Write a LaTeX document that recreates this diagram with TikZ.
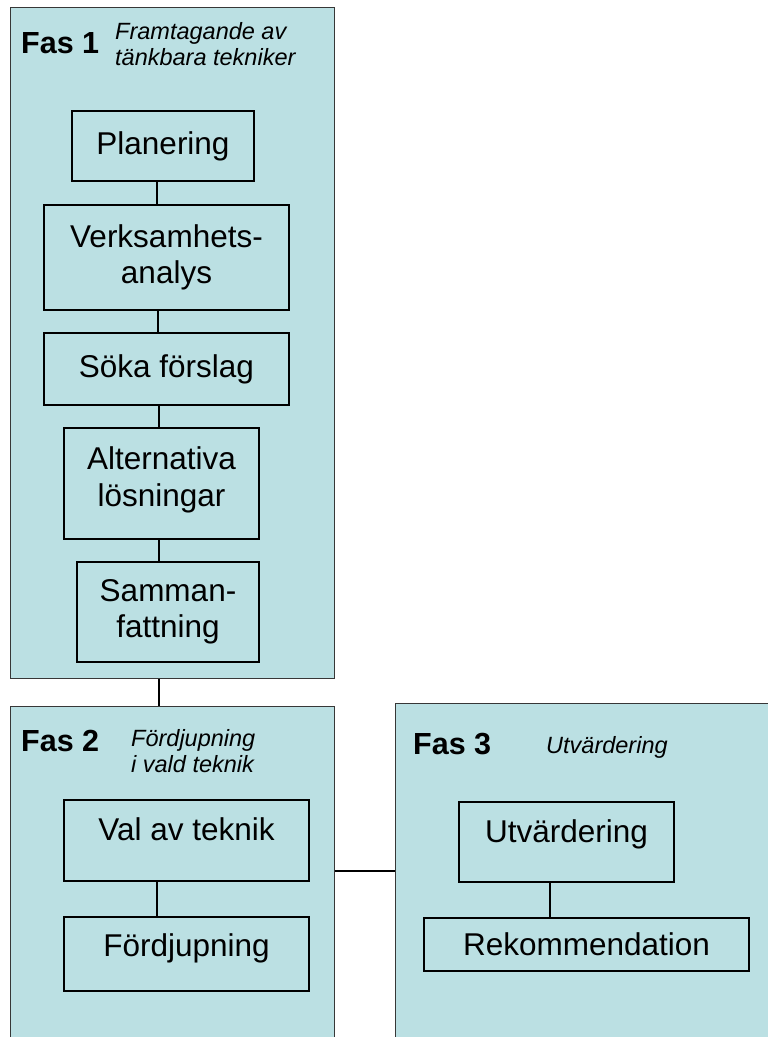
\documentclass[tikz,border=0pt]{standalone}
\usepackage{fontspec}
\setmainfont{Liberation Sans}
\definecolor{phasefill}{RGB}{187,224,227}
\definecolor{phaseline}{RGB}{55,55,55}
\begin{document}
\begin{tikzpicture}[x=1pt,y=-1pt,
  phasebox/.style={draw=phaseline,line width=1.3pt,fill=phasefill,inner sep=0pt,anchor=north west},
  stepbox/.style={draw=black,line width=1.5pt,inner sep=0pt,align=center,
    font=\fontsize{31.5}{36.5}\selectfont},
  phasetitle/.style={inner sep=0pt,anchor=base west,font=\fontsize{30.5}{36}\selectfont\bfseries},
  phasesub/.style={inner sep=0pt,align=left,font=\fontsize{23.5}{26}\selectfont\itshape},
  link/.style={draw=black,line width=1.3pt}]
\useasboundingbox (0,0) rectangle (768,1037);
\clip (0,0) rectangle (768,1037);
\fill[white] (0,0) rectangle (768,1037);
% phase frames
\node[phasebox,minimum width=324pt,minimum height=671pt] (fas1) at (9.5,7) {};
\node[phasebox,minimum width=324.5pt,minimum height=345pt] (fas2) at (9.5,706) {};
\node[phasebox,minimum width=385pt,minimum height=345pt] (fas3) at (395,703) {};
% titles
\node[phasetitle] (t1) at (21,53) {Fas 1};
\node[phasesub,anchor=north west] (s1) at (115,22) {Framtagande av\\tänkbara tekniker};
\node[phasetitle] (t2) at (21,751) {Fas 2};
\node[phasesub,anchor=north west] (s2) at (131,729) {Fördjupning\\i vald teknik};
\node[phasetitle] (t3) at (413,754) {Fas 3};
\node[phasesub,anchor=base west] (s3) at (546,753) {Utvärdering};
% phase 1 steps
\node[stepbox,minimum width=182pt,minimum height=70pt] (plan) at (163,146) {Planering};
\node[stepbox,minimum width=245pt,minimum height=105pt] (verk) at (166.5,257.5) {Verksamhets-\\analys};
\node[stepbox,minimum width=245pt,minimum height=72pt] (soka) at (166.5,369) {Söka förslag};
\node[stepbox,minimum width=195pt,minimum height=111pt,text depth=14pt] (alt) at (161.5,483.5) {Alternativa\\lösningar};
\node[stepbox,minimum width=182pt,minimum height=100pt] (samm) at (168,612) {Samman-\\fattning};
% phase 2 steps
\node[stepbox,minimum width=245pt,minimum height=81pt,text depth=22pt] (val) at (186.5,840.5) {Val av teknik};
\node[stepbox,minimum width=245pt,minimum height=74pt,text depth=17pt] (ford) at (186.5,954) {Fördjupning};
% phase 3 steps
\node[stepbox,minimum width=215pt,minimum height=80pt,text depth=21pt] (utv) at (566.5,842) {Utvärdering};
\node[stepbox,minimum width=325pt,minimum height=53pt] (rek) at (586.5,944.5) {Rekommendation};
% spine coordinates
\coordinate (xa) at (157,0);
\coordinate (xb) at (158,0);
\coordinate (xc) at (159,0);
\coordinate (xd) at (550,0);
\coordinate (yh) at (0,871);
% connectors
\draw[link] (plan.south -| xa) -- (verk.north -| xa);
\draw[link] (verk.south -| xb) -- (soka.north -| xb);
\draw[link] (soka.south -| xc) -- (alt.north -| xc);
\draw[link] (alt.south -| xc) -- (samm.north -| xc);
\draw[link] (fas1.south -| xc) -- (fas2.north -| xc);
\draw[link] (val.south -| xa) -- (ford.north -| xa);
\draw[link] (fas2.east |- yh) -- (fas3.west |- yh);
\draw[link] (utv.south -| xd) -- (rek.north -| xd);
\end{tikzpicture}
\end{document}
